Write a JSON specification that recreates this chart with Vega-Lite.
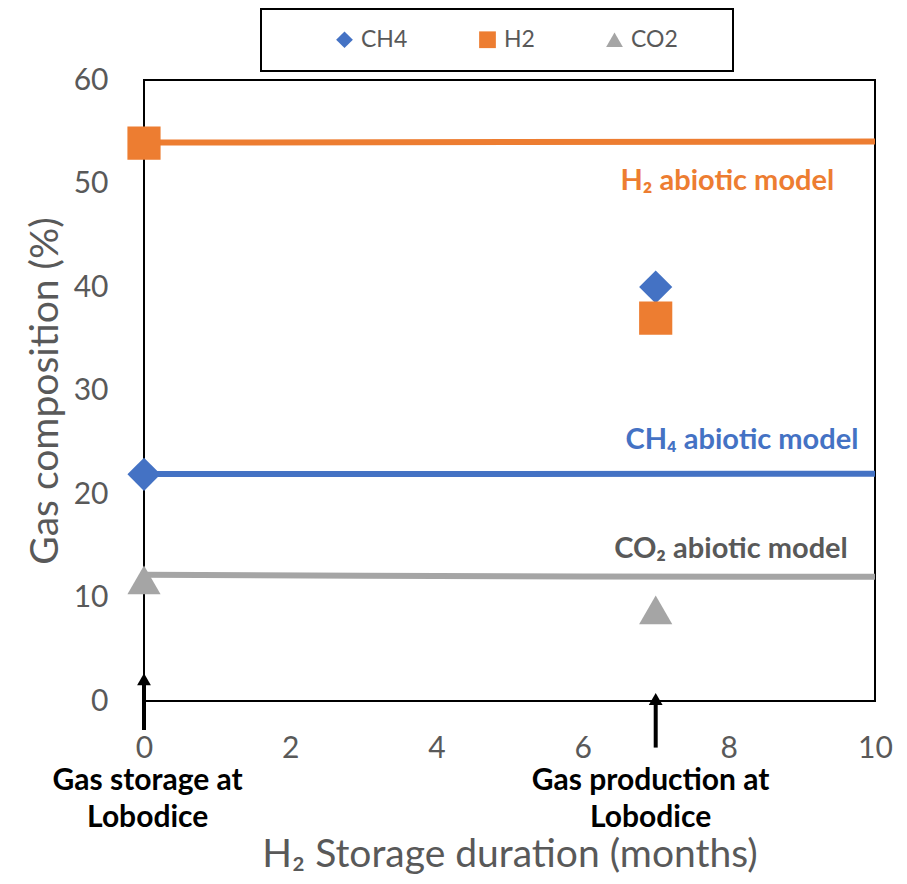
{
  "$schema": "https://vega.github.io/schema/vega-lite/v6.json",
  "width": 731,
  "height": 621,
  "autosize": "none",
  "padding": {"left": 144, "top": 80, "right": 32, "bottom": 183},
  "config": {"font": "Lato", "view": {"stroke": "black", "strokeWidth": 2}, "legend": {"strokeWidth": 2}},
  "datasets": {
    "points": [
      {"series": "CH4", "x": 0, "y": 21.9},
      {"series": "H2", "x": 0, "y": 53.9},
      {"series": "CO2", "x": 0, "y": 11.7},
      {"series": "CH4", "x": 7, "y": 40.0},
      {"series": "H2", "x": 7, "y": 37.0},
      {"series": "CO2", "x": 7, "y": 8.8}
    ],
    "lines": [
      {"series": "H2", "x": 0, "y": 53.95},
      {"series": "H2", "x": 10, "y": 54.05},
      {"series": "CH4", "x": 0, "y": 21.93},
      {"series": "CH4", "x": 10, "y": 21.95},
      {"series": "CO2", "x": 0, "y": 12.2},
      {"series": "CO2", "x": 3, "y": 12.1},
      {"series": "CO2", "x": 6, "y": 12.03},
      {"series": "CO2", "x": 10, "y": 12.0}
    ],
    "arrows": [
      {"x": 0, "y": -2.8, "y2": 1.6},
      {"x": 7, "y": -4.5, "y2": -0.3}
    ],
    "heads": [
      {"x": 0, "y": 2.1},
      {"x": 7, "y": 0.2}
    ],
    "notes": [
      {"x": 0.05, "y": -7.7, "text": "Gas storage at"},
      {"x": 0.05, "y": -11.3, "text": "Lobodice"},
      {"x": 6.93, "y": -7.7, "text": "Gas production at"},
      {"x": 6.93, "y": -11.3, "text": "Lobodice"}
    ],
    "models": [
      {"series": "H2", "x": 7.98, "y": 50.24, "text": "H₂ abiotic model"},
      {"series": "CH4", "x": 8.18, "y": 25.2, "text": "CH₄ abiotic model"},
      {"series": "CO2", "x": 8.03, "y": 14.7, "text": "CO₂ abiotic model"}
    ]
  },
  "encoding": {
    "x": {
      "field": "x", "type": "quantitative",
      "scale": {"domain": [0, 10], "nice": false, "zero": false},
      "axis": {
        "title": "H₂ Storage duration (months)",
        "values": [0, 2, 4, 6, 8, 10],
        "domain": false, "ticks": false, "grid": false,
        "labelFontSize": 30, "labelColor": "#595959", "labelPadding": 32,
        "labelFlush": false, "labelOverlap": false,
        "titleFontSize": 39, "titleColor": "#595959", "titleFontWeight": "normal",
        "titlePadding": 72
      }
    },
    "y": {
      "field": "y", "type": "quantitative",
      "scale": {"domain": [0, 60], "nice": false, "zero": false},
      "axis": {
        "title": "Gas composition (%)",
        "values": [0, 10, 20, 30, 40, 50, 60],
        "domain": false, "ticks": false, "grid": false,
        "labelFontSize": 30, "labelColor": "#595959", "labelPadding": 36,
        "labelFlush": false, "labelOverlap": false,
        "titleFontSize": 39, "titleColor": "#595959", "titleFontWeight": "normal",
        "titlePadding": 8
      }
    }
  },
  "layer": [
    {
      "data": {"name": "lines"},
      "mark": {"type": "line", "strokeWidth": 6, "clip": false},
      "encoding": {
        "detail": {"field": "series"},
        "color": {
          "condition": [
            {"test": "datum.series === 'H2'", "value": "#ED7D31"},
            {"test": "datum.series === 'CH4'", "value": "#4472C4"}
          ],
          "value": "#A5A5A5"
        }
      }
    },
    {
      "data": {"name": "points"},
      "mark": {"type": "point", "filled": true, "opacity": 1, "size": 1100},
      "encoding": {
        "color": {"field": "series", "type": "nominal",
          "scale": {"domain": ["CH4", "H2", "CO2"], "range": ["#4472C4", "#ED7D31", "#A5A5A5"]},
          "legend": {
            "title": " ", "titleOrient": "right", "titlePadding": 36, "titleFontSize": 4,
            "orient": "none", "legendX": 117, "legendY": -71,
            "direction": "horizontal", "columns": 3, "columnPadding": 15,
            "padding": 19, "symbolOffset": 53, "symbolSize": 280,
            "labelFontSize": 23, "labelColor": "#595959", "labelOffset": 5,
            "strokeColor": "black"
          }
        },
        "shape": {"field": "series", "type": "nominal",
          "scale": {"domain": ["CH4", "H2", "CO2"], "range": ["diamond", "square", "triangle-up"]},
          "legend": {
            "title": " ", "titleOrient": "right", "titlePadding": 36, "titleFontSize": 4,
            "orient": "none", "legendX": 117, "legendY": -71,
            "direction": "horizontal", "columns": 3, "columnPadding": 15,
            "padding": 19, "symbolOffset": 53, "symbolSize": 280,
            "labelFontSize": 23, "labelColor": "#595959", "labelOffset": 5,
            "strokeColor": "black"
          }
        }
      }
    },
    {
      "data": {"name": "arrows"},
      "mark": {"type": "rule", "strokeWidth": 4, "color": "black", "clip": false},
      "encoding": {"y2": {"field": "y2"}}
    },
    {
      "data": {"name": "heads"},
      "mark": {"type": "point", "shape": "triangle-up", "filled": true, "opacity": 1, "color": "black", "size": 190, "clip": false},
      "encoding": {}
    },
    {
      "data": {"name": "notes"},
      "mark": {"type": "text", "fontSize": 30, "fontWeight": "bold", "color": "black", "align": "center", "baseline": "middle", "clip": false},
      "encoding": {"text": {"field": "text"}}
    },
    {
      "data": {"name": "models"},
      "mark": {"type": "text", "fontSize": 29, "fontWeight": "bold", "align": "center", "baseline": "middle", "clip": false},
      "encoding": {
        "text": {"field": "text"},
        "color": {
          "condition": [
            {"test": "datum.series === 'H2'", "value": "#ED7D31"},
            {"test": "datum.series === 'CH4'", "value": "#4472C4"}
          ],
          "value": "#595959"
        }
      }
    }
  ]
}
